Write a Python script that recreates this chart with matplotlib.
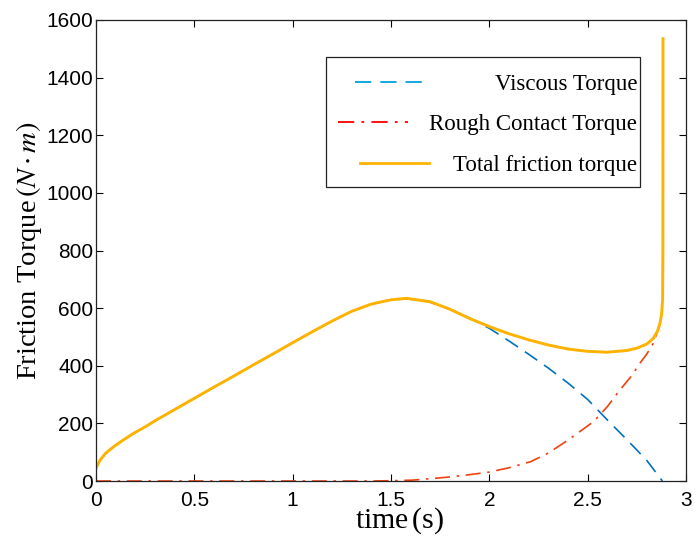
import matplotlib.pyplot as plt
import matplotlib.patches as mpatches

plt.rcParams['mathtext.fontset'] = 'stix'

# total friction torque (N*m)
t_total = [0, 0.02, 0.05, 0.09, 0.14, 0.19, 0.26, 0.3, 0.4, 0.5, 0.6, 0.7, 0.8, 0.9, 1.0,
           1.1, 1.2, 1.3, 1.4, 1.5, 1.58, 1.7, 1.8, 1.9, 2.0, 2.1, 2.2, 2.3,
           2.4, 2.5, 2.6, 2.7, 2.75, 2.8, 2.834, 2.855, 2.868, 2.876, 2.881,
           2.8825, 2.883]
total = [45, 72, 97, 119, 143, 165, 192, 209, 248, 287, 326, 364, 403, 441, 480,
         518, 555, 589, 614, 629, 634, 622, 596, 564, 536, 511, 490, 472,
         458, 450, 447, 453, 461, 475, 495, 520, 548, 580, 628, 800, 1535]

# viscous torque
t_visc = [0, 0.02, 0.05, 0.09, 0.14, 0.19, 0.26, 0.3, 0.4, 0.5, 0.6, 0.7, 0.8, 0.9, 1.0,
          1.1, 1.2, 1.3, 1.4, 1.5, 1.58, 1.68, 1.78, 1.87, 2.0, 2.1, 2.2, 2.3,
          2.4, 2.5, 2.6, 2.7, 2.8, 2.88]
viscous = [45, 72, 97, 119, 143, 165, 192, 209, 248, 287, 326, 364, 403, 441, 480,
           518, 555, 589, 614, 629, 632, 625, 601, 576, 530, 486, 440, 392,
           340, 283, 212, 143, 72, 0]

# rough contact torque
t_rough = [0, 0.5, 1.0, 1.4, 1.5, 1.61, 1.7, 1.8, 1.9, 2.0, 2.1, 2.21, 2.3, 2.4,
           2.53, 2.6, 2.664, 2.72, 2.766, 2.8, 2.834, 2.864, 2.876]
rough = [0, 0, 0, 0, 1, 3, 8, 14, 22, 31, 46, 67, 97, 142,
         206, 258, 316, 362, 409, 440, 478, 536, 565]

c_visc = '#0072BD'
c_rough = '#F0400F'
c_total = '#FFB200'

fig = plt.figure(figsize=(6.97, 5.39), dpi=100)
ax = fig.add_axes([0.1377, 0.1076, 0.8465, 0.8553])

ax.plot(t_visc, viscous, color=c_visc, lw=1.2, dashes=(9, 5))
ax.plot(t_rough, rough, color=c_rough, lw=1.2, dashes=(9, 4, 1.5, 4))
ax.plot(t_total, total, color=c_total, lw=2.1)

ax.set_xlim(0, 3)
ax.set_ylim(0, 1600)
ax.set_xticks([0, 0.5, 1, 1.5, 2, 2.5, 3])
ax.set_xticklabels(['0', '0.5', '1', '1.5', '2', '2.5', '3'])
ax.set_yticks(range(0, 1601, 200))
ax.tick_params(direction='in', top=True, right=True, length=5, width=0.8,
               labelsize=15)
ax.tick_params(axis='x', pad=7)
ax.tick_params(axis='y', pad=2)
for lab in ax.get_xticklabels() + ax.get_yticklabels():
    lab.set_family('Liberation Sans')
for s in ax.spines.values():
    s.set_linewidth(0.9)
    s.set_color('#222222')

ax.set_xlabel(r'time$\,$(s)', family='Liberation Serif', fontsize=21.5)
ax.xaxis.set_label_coords(0.514, -0.052)
ax.set_ylabel(r'Friction Torque$\,(N\cdot m)$', family='Liberation Serif',
              fontsize=20.5, labelpad=2)

# legend drawn by hand so the text sits right aligned like the original
box = mpatches.Rectangle((0.390, 0.638), 0.532, 0.282, transform=ax.transAxes,
                         facecolor='white', edgecolor='#222222', lw=0.9, zorder=5)
ax.add_patch(box)
rows = [
    ('Viscous Torque', 0.866, (0.439, 0.561), dict(color='#00A0E0', lw=1.3, dashes=(9, 5))),
    ('Rough Contact Torque', 0.779, (0.410, 0.529), dict(color='#FF0000', lw=1.3, dashes=(9, 4, 1.5, 4))),
    ('Total friction torque', 0.690, (0.447, 0.564), dict(color=c_total, lw=2.0)),
]
for label, y, (x0, x1), style in rows:
    ax.plot([x0, x1], [y, y], transform=ax.transAxes, zorder=6, **style)
    ax.text(0.917, y - 0.005, label, transform=ax.transAxes, ha='right', va='center',
            family='Liberation Serif', fontsize=16.5, zorder=6)

fig.savefig('out.png', dpi=100)
